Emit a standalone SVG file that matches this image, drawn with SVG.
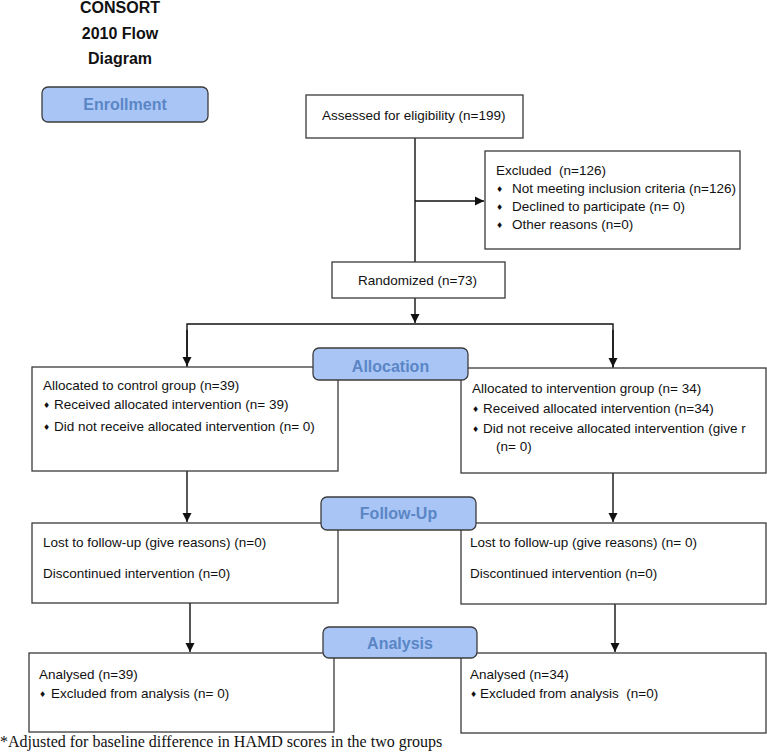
<svg xmlns="http://www.w3.org/2000/svg" width="767" height="753" viewBox="0 0 767 753">
<style>
.box{fill:#fff;stroke:#3a3a3a;stroke-width:1.3}
.lbl{fill:#a9c5f6;stroke:#3c3c3c;stroke-width:1.3}
.lt{font-family:"Liberation Sans",Arial,sans-serif;font-weight:bold;font-size:16px;fill:#5a86c5;text-anchor:middle}
.t{font-family:"Liberation Sans",Arial,sans-serif;font-size:13.5px;fill:#111;white-space:pre}
.b{font-family:"DejaVu Sans",sans-serif;font-size:8px;fill:#111}
.title{font-family:"Liberation Sans",Arial,sans-serif;font-weight:bold;font-size:16px;fill:#111;text-anchor:middle}
.ln{fill:none;stroke:#111;stroke-width:1.4}
.fn{font-family:"Liberation Serif","Times New Roman",serif;font-size:16px;fill:#111}
</style>
<defs>
<marker id="ah" markerUnits="userSpaceOnUse" markerWidth="10" markerHeight="10" refX="9" refY="5" orient="auto">
<path d="M0,0.5 L9,5 L0,9.5 Z" fill="#111"/>
</marker>
</defs>
<rect width="767" height="753" fill="#fff"/>
<g id="title">
<text class="title" x="120" y="13">CONSORT</text>
<text class="title" x="120" y="39">2010 Flow</text>
<text class="title" x="120" y="64">Diagram</text>
</g>
<g id="connectors">
<path class="ln" d="M415,138 V262"/>
<path class="ln" d="M415,201 H484" marker-end="url(#ah)"/>
<path class="ln" d="M415,298 V323" marker-end="url(#ah)"/>
<path class="ln" d="M187,367 V324 H613 V368" />
<path class="ln" d="M187,330 V366" marker-end="url(#ah)"/>
<path class="ln" d="M613,330 V367" marker-end="url(#ah)"/>
<path class="ln" d="M187,471 V522" marker-end="url(#ah)"/>
<path class="ln" d="M613,473 V522" marker-end="url(#ah)"/>
<path class="ln" d="M190,603 V652" marker-end="url(#ah)"/>
<path class="ln" d="M615,604 V652" marker-end="url(#ah)"/>
</g>
<g id="enrollment">
<rect class="lbl" x="42" y="87" width="166" height="35" rx="6"/>
<text class="lt" x="125" y="110">Enrollment</text>
</g>
<g id="assessed">
<rect class="box" x="306" y="95" width="217" height="43"/>
<text class="t" x="322" y="120">Assessed for eligibility (n=199)</text>
</g>
<g id="excluded">
<rect class="box" x="485" y="151" width="255" height="98"/>
<text class="t" x="496" y="175">Excluded &#160;(n=126)</text>
<text class="b" x="496" y="192">♦</text><text class="t" x="512" y="193">Not meeting inclusion criteria (n=126)</text>
<text class="b" x="496" y="210">♦</text><text class="t" x="512" y="211">Declined to participate (n= 0)</text>
<text class="b" x="496" y="228">♦</text><text class="t" x="512" y="229">Other reasons (n=0)</text>
</g>
<g id="randomized">
<rect class="box" x="332" y="262" width="173" height="36"/>
<text class="t" x="358" y="285">Randomized (n=73)</text>
</g>
<g id="alloc-control">
<rect class="box" x="32" y="367" width="306" height="104"/>
<text class="t" x="43" y="390">Allocated to control group (n=39)</text>
<text class="b" x="43" y="408">♦</text><text class="t" x="54" y="409">Received allocated intervention (n= 39)</text>
<text class="b" x="43" y="430">♦</text><text class="t" x="54" y="431">Did not receive allocated intervention (n= 0)</text>
</g>
<g id="alloc-intervention">
<rect class="box" x="461" y="368" width="305" height="105"/>
<text class="t" x="472" y="393">Allocated to intervention group (n= 34)</text>
<text class="b" x="472" y="412">♦</text><text class="t" x="483" y="413">Received allocated intervention (n=34)</text>
<text class="b" x="472" y="432">♦</text><text class="t" x="483" y="433">Did not receive allocated intervention (give r</text>
<text class="t" x="496" y="451">(n= 0)</text>
</g>
<g id="allocation">
<rect class="lbl" x="313" y="348" width="155" height="32" rx="6"/>
<text class="lt" x="390.5" y="372">Allocation</text>
</g>
<g id="follow-control">
<rect class="box" x="32" y="523" width="306" height="80"/>
<text class="t" x="43" y="547">Lost to follow-up (give reasons) (n=0)</text>
<text class="t" x="43" y="578">Discontinued intervention (n=0)</text>
</g>
<g id="follow-intervention">
<rect class="box" x="461" y="523" width="305" height="81"/>
<text class="t" x="470" y="547">Lost to follow-up (give reasons) (n= 0)</text>
<text class="t" x="470" y="578">Discontinued intervention (n=0)</text>
</g>
<g id="followup">
<rect class="lbl" x="321" y="497" width="155" height="33" rx="6"/>
<text class="lt" x="398.5" y="519">Follow-Up</text>
</g>
<g id="analysis-control">
<rect class="box" x="29" y="653" width="305" height="79"/>
<text class="t" x="39" y="679">Analysed (n=39)</text>
<text class="b" x="39" y="697">♦</text><text class="t" x="51" y="698">Excluded from analysis (n= 0)</text>
</g>
<g id="analysis-intervention">
<rect class="box" x="461" y="653" width="305" height="80"/>
<text class="t" x="470" y="679">Analysed (n=34)</text>
<text class="b" x="470" y="697">♦</text><text class="t" x="480" y="698">Excluded from analysis &#160;(n=0)</text>
</g>
<g id="analysis">
<rect class="lbl" x="323" y="627" width="154" height="31" rx="6"/>
<text class="lt" x="400" y="649">Analysis</text>
</g>
<text class="fn" x="0" y="747">*Adjusted for baseline difference in HAMD scores in the two groups</text>
</svg>
